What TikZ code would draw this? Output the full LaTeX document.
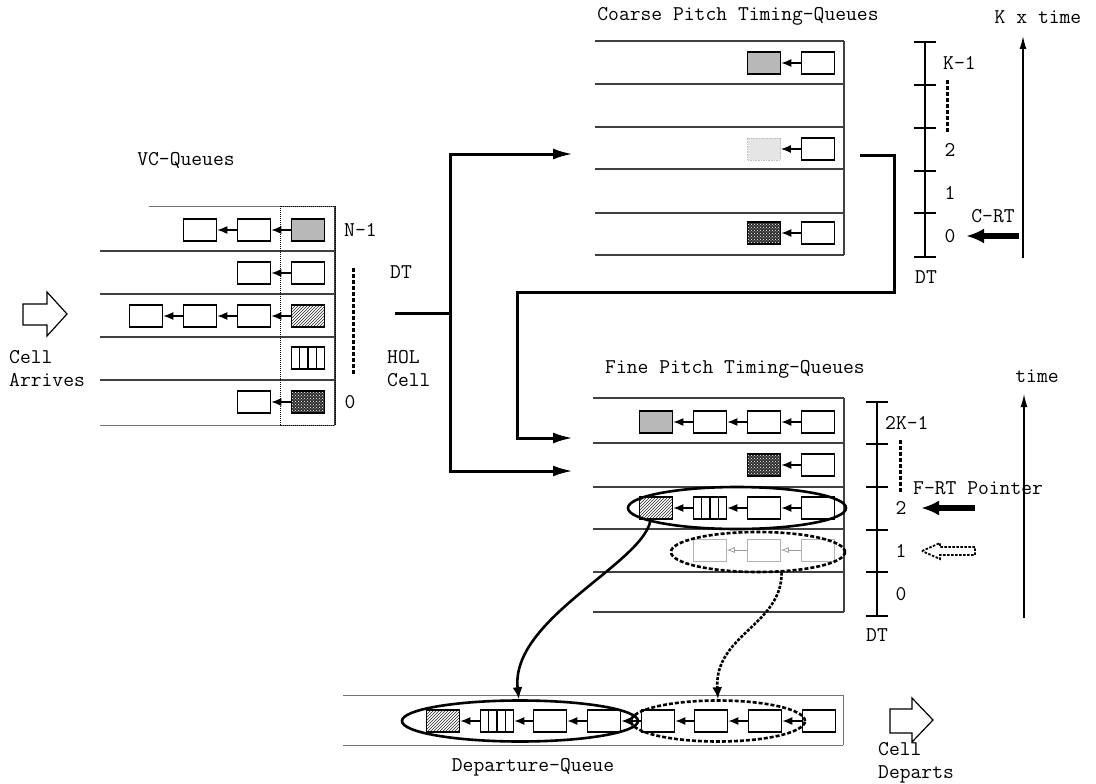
\documentclass[tikz,border=0pt]{standalone}
\usepackage{fontspec}
\usetikzlibrary{arrows.meta,patterns,shapes.geometric,calc}
\tikzset{
  cellbox/.style={draw, line width=1.6pt, minimum width=33pt, minimum height=22pt, inner sep=0pt, fill=white},
  greycell/.style={cellbox, fill=black!28},
  darkcell/.style={cellbox, preaction={fill=black!82}, pattern=crosshatch dots, pattern color=white},
  hatchcell/.style={cellbox, pattern=north east lines, pattern color=black!85},
  stripecell/.style={cellbox, path picture={\foreach \f in {0.25,0.5,0.75}{\draw[line width=1.1pt] ($(path picture bounding box.south west)!\f!(path picture bounding box.south east)$) -- ($(path picture bounding box.north west)!\f!(path picture bounding box.north east)$);}}},
  faintcell/.style={cellbox, draw=black!30, line width=0.8pt},
  fadedcell/.style={cellbox, draw=black!25, densely dotted, line width=0.8pt, fill=black!10},
  link/.style={line width=1.4pt, -{Latex[length=10pt,width=8pt]}},
  faintlink/.style={line width=0.7pt, draw=black!40, -{Latex[open,length=8pt,width=6pt]}},
  rowline/.style={line width=1.2pt, draw=black!75},
  thinline/.style={line width=0.8pt, draw=black!55},
  bus/.style={line width=3pt, line join=miter},
  bustip/.style={-{Latex[length=20pt,width=11pt]}},
  dotmark/.style={fill=black},
  scalebar/.style={line width=1.4pt},
  pointer/.style={line width=6pt, -{Latex[length=18pt,width=15pt]}},
  timearrow/.style={line width=1.4pt, -{Latex[length=13pt,width=7pt]}},
  solidring/.style={ellipse, draw, line width=2.6pt, inner sep=0pt},
  dashring/.style={ellipse, draw, line width=2.6pt, inner sep=0pt, dash pattern=on 4pt off 2pt},
  lbl/.style={inner sep=0pt, font=\ttfamily\fontsize{21pt}{23pt}\selectfont},
  bigarrow/.style={line width=1.2pt, line join=miter}
}
\begin{document}
\begin{tikzpicture}[x=1pt,y=-1pt]
\useasboundingbox[fill=white] (0,0) rectangle (1096,784);

% ---------------- VC-Queues ----------------
\node[lbl] (vctitle) at (186,160) {VC-Queues};
\draw[thinline] (149,206) -- (335,206);
\foreach \y in {251,294,337,380} \draw[rowline] (100,\y) -- (335,\y);
\draw[thinline] (100,425) -- (335,425);
\draw[rowline] (335,206) -- (335,425);
\draw[line width=1pt, densely dotted] (280,206) rectangle (335,425);

\node[greycell] (v1h) at (308,230) {};
\node[cellbox] (v1b) at (254,230) {};
\node[cellbox] (v1c) at (200,230) {};
\draw[link] (v1h.west) -- (v1b.east);
\draw[link] (v1b.west) -- (v1c.east);

\node[cellbox] (v2h) at (308,273) {};
\node[cellbox] (v2b) at (254,273) {};
\draw[link] (v2h.west) -- (v2b.east);

\node[hatchcell] (v3h) at (308,316) {};
\node[cellbox] (v3b) at (254,316) {};
\node[cellbox] (v3c) at (200,316) {};
\node[cellbox] (v3d) at (146,316) {};
\draw[link] (v3h.west) -- (v3b.east);
\draw[link] (v3b.west) -- (v3c.east);
\draw[link] (v3c.west) -- (v3d.east);

\node[stripecell] (v4h) at (308,358) {};

\node[darkcell] (v5h) at (308,402) {};
\node[cellbox] (v5b) at (254,402) {};
\draw[link] (v5h.west) -- (v5b.east);

\node[lbl, anchor=west] (vN) at (344,230) {N-1};
\node[lbl] (v0) at (350,402) {0};
\foreach \y in {268,274,...,372} \fill[dotmark] (351.5,\y) rectangle (355,\y+3.8);
\node[lbl] (dtmid) at (401,272) {DT};
\node[lbl, anchor=west, align=left] (hol) at (387,369) {HOL\\Cell};

% Cell arrives
\draw[bigarrow] (23,304) -- (47,304) -- (47,292) -- (67,314) -- (47,336) -- (47,325) -- (23,325) -- cycle;
\node[lbl, anchor=west, align=left] (arr) at (9,369) {Cell\\Arrives};

% ---------------- bus connectors ----------------
\coordinate (stub) at (395,313);
\coordinate (split) at (450,313);
\coordinate (cin) at (573,154);
\coordinate (fin1) at (573,471);
\coordinate (cout) at (860,155);
\coordinate (turn1) at (894,292);
\coordinate (turn2) at (517,438);
\coordinate (fin2) at (573,438);
\draw[bus] (stub) -- (split);
\draw[bus, {Latex[length=20pt,width=11pt]}-{Latex[length=20pt,width=11pt]}] (cin) -| (split) |- (fin1);
\draw[bus, bustip] (cout) -| (turn1) -| (turn2) -- (fin2);

% ---------------- Coarse pitch ----------------
\node[lbl] (ctitle) at (738,16) {Coarse Pitch Timing-Queues};
\foreach \y in {41,84,127,169,213,255} \draw[rowline] (595,\y) -- (844,\y);
\draw[rowline] (844,41) -- (844,255);

\node[greycell] (c1a) at (764,63) {};
\node[cellbox] (c1b) at (818,63) {};
\draw[link] (c1b.west) -- (c1a.east);
\node[fadedcell] (c3a) at (764,149) {};
\node[cellbox] (c3b) at (818,149) {};
\draw[link] (c3b.west) -- (c3a.east);
\node[darkcell] (c5a) at (764,233) {};
\node[cellbox] (c5b) at (818,233) {};
\draw[link] (c5b.west) -- (c5a.east);

\draw[scalebar] (925,42) -- (925,257);
\foreach \y in {42,85,128,171,213,257} \draw[scalebar] (914,\y) -- (936,\y);
\node[lbl, anchor=west] (cK) at (943,63) {K-1};
\foreach \y in {80,86,...,130} \fill[dotmark] (945.5,\y) rectangle (949,\y+3.8);
\node[lbl] (c2) at (950,150) {2};
\node[lbl] (c1) at (950,193) {1};
\node[lbl] (c0) at (950,236) {0};
\node[lbl] (cdt) at (926,277) {DT};
\node[lbl] (crt) at (993,216) {C-RT};
\coordinate (crtS) at (1019,236);
\coordinate (crtE) at (966,236);
\draw[pointer] (crtS) -- (crtE);
\coordinate (ktS) at (1023,258);
\coordinate (ktE) at (1023,36);
\draw[timearrow] (ktS) -- (ktE);
\node[lbl] (ktime) at (1038,17) {K x time};

% ---------------- Fine pitch ----------------
\node[lbl] (ftitle) at (735,369) {Fine Pitch Timing-Queues};
\foreach \y in {398,443,487,529,572,612} \draw[rowline] (593,\y) -- (844,\y);
\draw[rowline] (844,398) -- (844,612);

\node[greycell] (f1a) at (656,422) {};
\node[cellbox] (f1b) at (710,422) {};
\node[cellbox] (f1c) at (764,422) {};
\node[cellbox] (f1d) at (818,422) {};
\draw[link] (f1b.west) -- (f1a.east);
\draw[link] (f1c.west) -- (f1b.east);
\draw[link] (f1d.west) -- (f1c.east);

\node[darkcell] (f2a) at (764,465) {};
\node[cellbox] (f2b) at (818,465) {};
\draw[link] (f2b.west) -- (f2a.east);

\node[hatchcell] (f3a) at (656,508) {};
\node[stripecell] (f3b) at (710,508) {};
\node[cellbox] (f3c) at (764,508) {};
\node[cellbox] (f3d) at (818,508) {};
\draw[link] (f3b.west) -- (f3a.east);
\draw[link] (f3c.west) -- (f3b.east);
\draw[link] (f3d.west) -- (f3c.east);

\node[faintcell] (f4a) at (710,550) {};
\node[faintcell] (f4b) at (764,550) {};
\node[faintcell] (f4c) at (818,550) {};
\draw[faintlink] (f4b.west) -- (f4a.east);
\draw[faintlink] (f4c.west) -- (f4b.east);

\node[solidring, minimum width=218pt, minimum height=42pt] (e1) at (737,508) {};
\node[dashring, minimum width=174pt, minimum height=40pt] (e2) at (758,552) {};

\draw[scalebar] (877,402) -- (877,616);
\foreach \y in {402,444,487,530,572,616} \draw[scalebar] (866,\y) -- (888,\y);
\node[lbl, anchor=west] (fK) at (885,423) {2K-1};
\foreach \y in {440,446,...,488} \fill[dotmark] (898.5,\y) rectangle (902,\y+3.8);
\node[lbl, anchor=west] (frt) at (913,488) {F-RT Pointer};
\node[lbl] (f2) at (901,508) {2};
\node[lbl] (f1) at (901,551) {1};
\node[lbl] (f0) at (901,594) {0};
\node[lbl] (fdt) at (877,635) {DT};
\coordinate (frtS) at (975,508);
\coordinate (frtE) at (921,508);
\draw[pointer] (frtS) -- (frtE);
\draw[line width=1.8pt, dash pattern=on 2.5pt off 1.5pt, line join=miter] (922,551) -- (940,543) -- (940,547) -- (975,547) -- (975,555) -- (940,555) -- (940,559) -- cycle;
\coordinate (ftS) at (1024,618);
\coordinate (ftE) at (1024,394);
\draw[timearrow] (ftS) -- (ftE);
\node[lbl] (ftime) at (1037,376) {time};

% ---------------- Departure queue ----------------
\draw[thinline] (343,695) -- (843,695);
\draw[thinline] (343,745) -- (843,745);
\draw[thinline] (843,695) -- (843,745);

\node[hatchcell] (d1) at (443,721) {};
\node[stripecell] (d2) at (497,721) {};
\node[cellbox] (d3) at (550,721) {};
\node[cellbox] (d4) at (604,721) {};
\node[cellbox] (d5) at (658,721) {};
\node[cellbox] (d6) at (711,721) {};
\node[cellbox] (d7) at (765,721) {};
\node[cellbox] (d8) at (819,721) {};
\foreach \a/\b in {d2/d1,d3/d2,d4/d3,d5/d4,d6/d5,d7/d6,d8/d7} \draw[link] (\a.west) -- (\b.east);

\node[solidring, minimum width=236pt, minimum height=41pt] (dA) at (520,721) {};
\node[dashring, minimum width=174pt, minimum height=41pt] (dB) at (718,721) {};

\node[lbl] (dtitle) at (533,767) {Departure-Queue};

% curves
\draw[line width=2.6pt, -{Latex[length=12pt,width=10pt]}] (e1.189) .. controls (640,565) and (510,620) .. (dA.93);
\draw[line width=2.6pt, dash pattern=on 3pt off 1.5pt, -{Latex[length=12pt,width=10pt]}] (e2.319) .. controls (782,625) and (714,635) .. (dB.north);

% Cell departs
\draw[bigarrow] (890,709) -- (912,709) -- (912,698) -- (933,720) -- (912,742) -- (912,733) -- (890,733) -- cycle;
\node[lbl, anchor=west, align=left] (dep) at (878,763) {Cell\\Departs};
\end{tikzpicture}
\end{document}
